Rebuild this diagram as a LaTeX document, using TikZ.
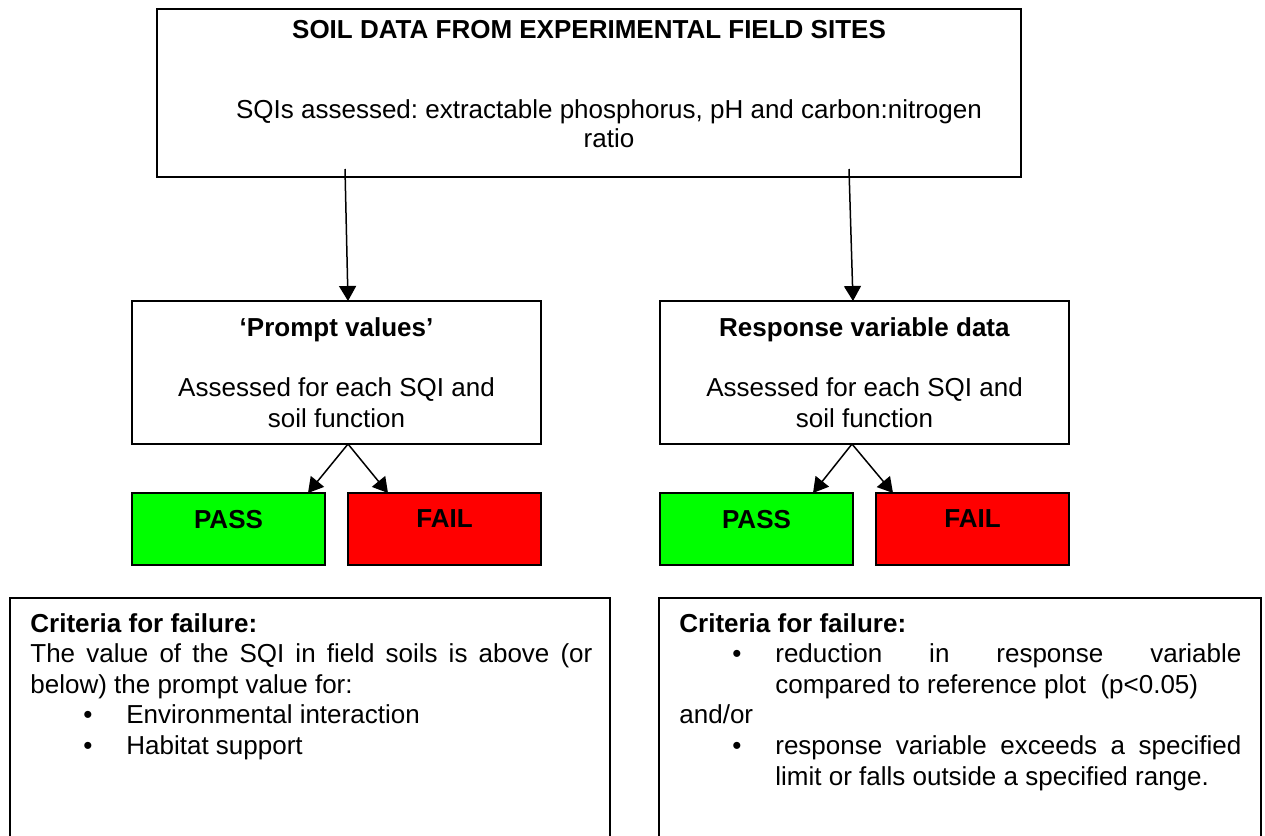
\documentclass[tikz,border=0pt]{standalone}
\usepackage{fontspec}
\setmainfont{Liberation Sans}
\usetikzlibrary{positioning, arrows.meta}
\definecolor{passgreen}{RGB}{0,255,0}
\definecolor{failred}{RGB}{255,0,0}
\frenchspacing
% one bulleted item, wrapped lines hang under the text
\newcommand{\critem}[1]{\par\hangindent=48pt\hangafter=1\noindent
  \hspace*{26.5pt}\makebox[21.5pt][l]{\textbullet}#1\par}

\begin{document}
\begin{tikzpicture}[x=0.5pt, y=-0.5pt,
    every node/.style = {font=\fontsize{13}{15.3}\selectfont},
    box/.style = {draw, line width=1pt, inner sep=0pt, outer sep=0pt},
    midbox/.style = {box, minimum width=204.5pt, minimum height=71.5pt,
      align=center},
    critbox/.style = {box, minimum height=151pt},
    crittext/.style = {anchor=base west, text width=281pt, align=justify,
      inner sep=0pt},
    verdict/.style = {box, minimum width=96.5pt, minimum height=36pt,
      text depth=10pt, font=\fontsize{13}{15.3}\selectfont\bfseries},
    link/.style = {-{Triangle[length=7.5pt, width=8.5pt]}, line width=0.75pt},
  ]
\useasboundingbox (0,0) rectangle (1265,836);
\clip (0,0) rectangle (1265,836);

% source data
\node[box, minimum width=432pt, minimum height=84pt] (soil) at (589,93) {};
\node[anchor=base, font=\fontsize{13}{15.3}\selectfont\bfseries] (soilhead)
  at (589,38) {SOIL DATA FROM EXPERIMENTAL FIELD SITES};
% base of a multi-line node is its last line
\node[anchor=base, align=center, font=\fontsize{13}{14.5}\selectfont] (soilbody)
  at (609,147) {SQIs assessed: extractable phosphorus, pH and carbon:nitrogen\\ ratio};

% the two assessments
\node[midbox] (prompt) at (336.5,372.5)
  {\textbf{‘Prompt values’}\\[15pt] Assessed for each SQI and\\ soil function};
\node[midbox] (response) at (864.5,372.5)
  {\textbf{Response variable data}\\[15pt] Assessed for each SQI and\\ soil function};

% outcomes
\node[verdict, fill=passgreen, below right=24.5pt and 0pt of prompt.south west]
  (passL) {PASS};
\node[verdict, fill=failred, right=11.5pt of passL] (failL) {FAIL};
\node[verdict, fill=passgreen, below right=24.5pt and 0pt of response.south west]
  (passR) {PASS};
\node[verdict, fill=failred, right=11.5pt of passR] (failR) {FAIL};

\draw[link] ([xshift=-122pt, yshift=4pt]soil.south) -- ([xshift=5.75pt]prompt.north);
\draw[link] ([xshift=130pt, yshift=4pt]soil.south) -- ([xshift=-5.75pt]response.north);
\draw[link] ([xshift=5.75pt]prompt.south) -- ([xshift=-8.5pt]passL.north east);
\draw[link] ([xshift=5.75pt]prompt.south) -- ([xshift=20pt]failL.north west);
\draw[link] ([xshift=-6.25pt]response.south) -- ([xshift=-20pt]passR.north east);
\draw[link] ([xshift=-6.25pt]response.south) -- ([xshift=8.5pt]failR.north west);

% failure criteria
\node[critbox, minimum width=300pt] (critboxL) at (310,749) {};
\node[critbox, minimum width=301pt] (critboxR) at (960,749) {};
\node[crittext] (critL) at (30,632) {\textbf{Criteria for failure:}\par
  The value of the SQI in field soils is above (or\linebreak below) the prompt value for:
  \critem{Environmental interaction}
  \critem{Habitat support}};
\node[crittext] (critR) at (679,632) {\textbf{Criteria for failure:}
  \critem{reduction in response variable\linebreak compared to reference plot\ \ (p<0.05)}
  \noindent and/or\par
  \critem{response variable exceeds a specified\linebreak limit or falls outside a specified range.}};
\end{tikzpicture}
\end{document}
